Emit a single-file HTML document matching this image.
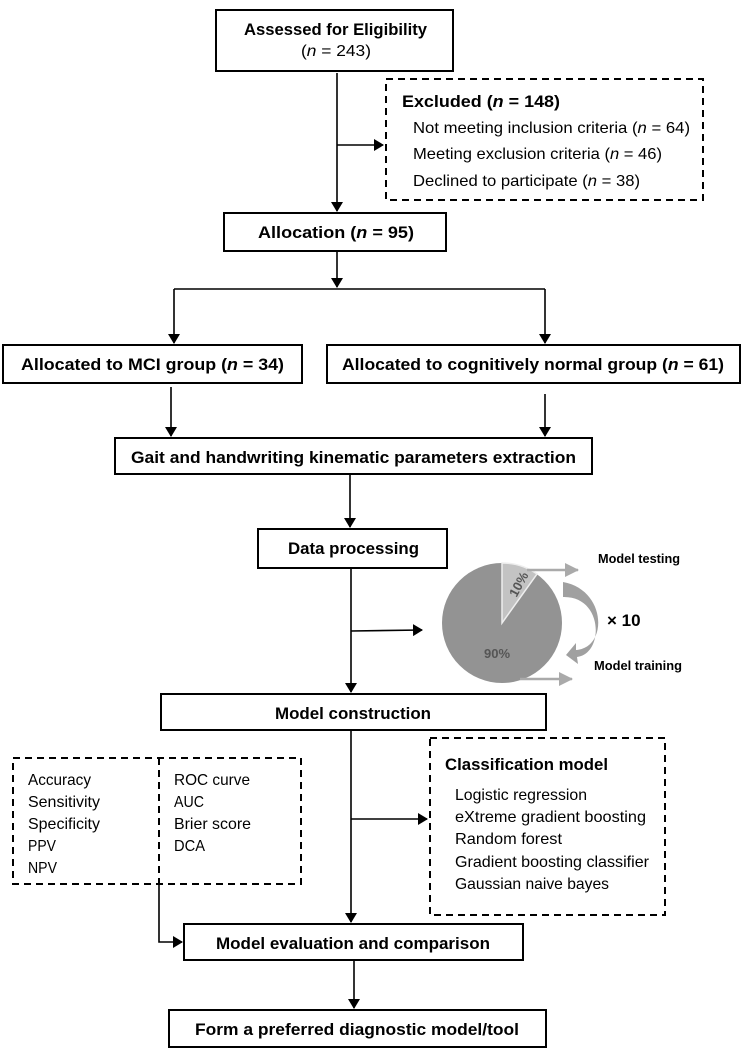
<!DOCTYPE html>
<html><head><meta charset="utf-8"><style>
body{margin:0;background:#fff;}
svg text{font-family:"Liberation Sans",sans-serif;}
.b{font-weight:bold;font-size:17px;}
.r{font-size:16px;}
</style></head><body>
<svg width="742" height="1054" viewBox="0 0 742 1054" xmlns="http://www.w3.org/2000/svg">
<defs><marker id="a" markerWidth="10" markerHeight="12" refX="9" refY="6" orient="auto" markerUnits="userSpaceOnUse"><path d="M0,0 L10,6 L0,12z" fill="#000"/></marker>
<marker id="g" markerWidth="14" markerHeight="14" refX="13" refY="7" orient="auto" markerUnits="userSpaceOnUse"><path d="M0,0 L14,7 L0,14z" fill="#aaa"/></marker></defs>
<g fill="none" stroke="#000" stroke-width="2">
<rect x="216" y="10" width="237" height="61"/>
<rect x="386" y="79" width="317" height="121" stroke-dasharray="7,5"/>
<rect x="224" y="213" width="222" height="38"/>
<rect x="3" y="345" width="299" height="38"/>
<rect x="327" y="345" width="413" height="38"/>
<rect x="115" y="438" width="477" height="36"/>
<rect x="258" y="529" width="189" height="39"/>
<rect x="161" y="694" width="385" height="36"/>
<rect x="13" y="758" width="288" height="126" stroke-dasharray="7,5"/>
<line x1="159" y1="758" x2="159" y2="884" stroke-dasharray="7,5"/>
<rect x="430" y="738" width="235" height="177" stroke-dasharray="7,5"/>
<rect x="184" y="924" width="339" height="36"/>
<rect x="169" y="1010" width="377" height="37"/>
</g>
<g fill="none" stroke="#000" stroke-width="1.6">
<line x1="337" y1="73" x2="337" y2="211" marker-end="url(#a)"/>
<line x1="337" y1="145" x2="383" y2="145" marker-end="url(#a)"/>
<line x1="337" y1="251" x2="337" y2="287" marker-end="url(#a)"/>
<polyline points="174,289 545,289"/>
<line x1="174" y1="289" x2="174" y2="343" marker-end="url(#a)"/>
<line x1="545" y1="289" x2="545" y2="343" marker-end="url(#a)"/>
<line x1="171" y1="387" x2="171" y2="436" marker-end="url(#a)"/>
<line x1="545" y1="394" x2="545" y2="436" marker-end="url(#a)"/>
<line x1="350" y1="474" x2="350" y2="527" marker-end="url(#a)"/>
<line x1="351" y1="568" x2="351" y2="692" marker-end="url(#a)"/>
<line x1="351" y1="631" x2="422" y2="630" marker-end="url(#a)"/>
<line x1="351" y1="730" x2="351" y2="922" marker-end="url(#a)"/>
<line x1="351" y1="819" x2="427" y2="819" marker-end="url(#a)"/>
<polyline points="159,884 159,942 182,942" marker-end="url(#a)"/>
<line x1="354" y1="960" x2="354" y2="1008" marker-end="url(#a)"/>
</g>
<circle cx="502" cy="623" r="60" fill="#939393"/>
<path d="M502,623 L502,563 A60,60 0 0 1 537,574 Z" fill="#c3c3c3" stroke="#eee" stroke-width="1.5"/>
<text x="510" y="597" font-size="13" font-weight="bold" fill="#555" transform="rotate(-62 514 592)">10%</text>
<text x="484" y="658" font-size="13" font-weight="bold" fill="#555">90%</text>
<line x1="527" y1="570" x2="578" y2="570" stroke="#aaa" stroke-width="2.5" marker-end="url(#g)"/>
<line x1="520" y1="679" x2="572" y2="679" stroke="#aaa" stroke-width="2.5" marker-end="url(#g)"/>
<path d="M563,582 C607,590 608,648 576,650 L576,643 L566,655 L578,664 L577,657 C604,654 604,596 563,597 Z" fill="#a0a0a0"/>
<text x="598" y="563" font-size="13" font-weight="bold" textLength="82" lengthAdjust="spacingAndGlyphs">Model testing</text>
<text x="594" y="670" font-size="13" font-weight="bold" textLength="88" lengthAdjust="spacingAndGlyphs">Model training</text>
<text x="607" y="626" font-size="17" font-weight="bold">× 10</text>
<g>
<text x="244" y="35" class="b" textLength="183" lengthAdjust="spacingAndGlyphs">Assessed for Eligibility</text>
<text x="301" y="56" class="r" textLength="70" lengthAdjust="spacingAndGlyphs">(<tspan font-style="italic">n</tspan> = 243)</text>
<text x="258" y="238" class="b" textLength="156" lengthAdjust="spacingAndGlyphs">Allocation (<tspan font-style="italic">n</tspan> = 95)</text>
<text x="21" y="370" class="b" textLength="263" lengthAdjust="spacingAndGlyphs">Allocated to MCI group (<tspan font-style="italic">n</tspan> = 34)</text>
<text x="342" y="370" class="b" textLength="382" lengthAdjust="spacingAndGlyphs">Allocated to cognitively normal group (<tspan font-style="italic">n</tspan> = 61)</text>
<text x="131" y="463" class="b" textLength="445" lengthAdjust="spacingAndGlyphs">Gait and handwriting kinematic parameters extraction</text>
<text x="288" y="554" class="b" textLength="131" lengthAdjust="spacingAndGlyphs">Data processing</text>
<text x="275" y="719" class="b" textLength="156" lengthAdjust="spacingAndGlyphs">Model construction</text>
<text x="216" y="949" class="b" textLength="274" lengthAdjust="spacingAndGlyphs">Model evaluation and comparison</text>
<text x="195" y="1035" class="b" textLength="324" lengthAdjust="spacingAndGlyphs">Form a preferred diagnostic model/tool</text>
<text x="402" y="107" class="b" textLength="158" lengthAdjust="spacingAndGlyphs">Excluded (<tspan font-style="italic">n</tspan> = 148)</text>
<text x="413" y="133" class="r" textLength="277" lengthAdjust="spacingAndGlyphs">Not meeting inclusion criteria (<tspan font-style="italic">n</tspan> = 64)</text>
<text x="413" y="159" class="r" textLength="249" lengthAdjust="spacingAndGlyphs">Meeting exclusion criteria (<tspan font-style="italic">n</tspan> = 46)</text>
<text x="413" y="186" class="r" textLength="227" lengthAdjust="spacingAndGlyphs">Declined to participate (<tspan font-style="italic">n</tspan> = 38)</text>
<text x="28" y="785" class="r" textLength="63" lengthAdjust="spacingAndGlyphs">Accuracy</text>
<text x="28" y="807" class="r" textLength="72" lengthAdjust="spacingAndGlyphs">Sensitivity</text>
<text x="28" y="829" class="r" textLength="72" lengthAdjust="spacingAndGlyphs">Specificity</text>
<text x="28" y="851" class="r" textLength="28" lengthAdjust="spacingAndGlyphs">PPV</text>
<text x="28" y="873" class="r" textLength="29" lengthAdjust="spacingAndGlyphs">NPV</text>
<text x="174" y="785" class="r" textLength="76" lengthAdjust="spacingAndGlyphs">ROC curve</text>
<text x="174" y="807" class="r" textLength="30" lengthAdjust="spacingAndGlyphs">AUC</text>
<text x="174" y="829" class="r" textLength="77" lengthAdjust="spacingAndGlyphs">Brier score</text>
<text x="174" y="851" class="r" textLength="31" lengthAdjust="spacingAndGlyphs">DCA</text>
<text x="445" y="770" class="b" textLength="163" lengthAdjust="spacingAndGlyphs">Classification model</text>
<text x="455" y="800" class="r" textLength="132" lengthAdjust="spacingAndGlyphs">Logistic regression</text>
<text x="455" y="822" class="r" textLength="191" lengthAdjust="spacingAndGlyphs">eXtreme gradient boosting</text>
<text x="455" y="844" class="r" textLength="107" lengthAdjust="spacingAndGlyphs">Random forest</text>
<text x="455" y="867" class="r" textLength="194" lengthAdjust="spacingAndGlyphs">Gradient boosting classifier</text>
<text x="455" y="889" class="r" textLength="154" lengthAdjust="spacingAndGlyphs">Gaussian naive bayes</text>
</g>
</svg>
</body></html>
